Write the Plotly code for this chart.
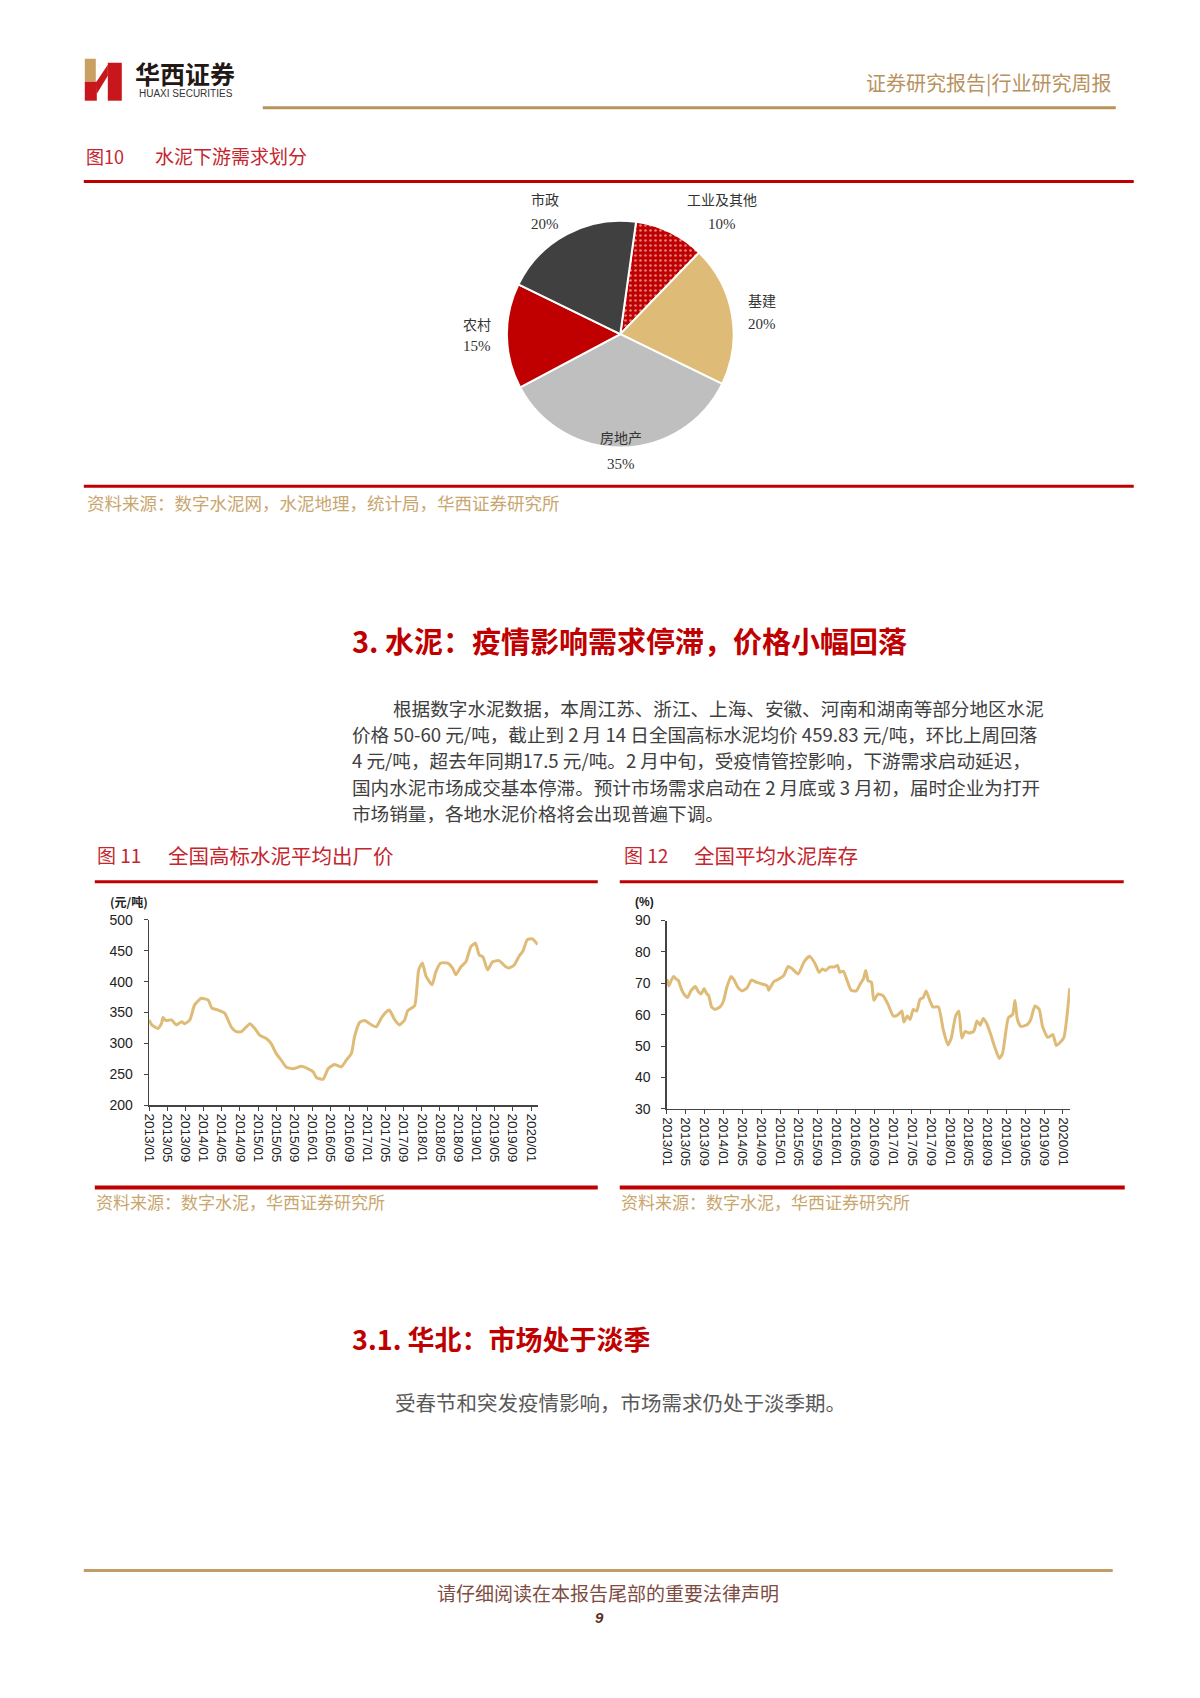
import plotly.graph_objects as go

# page / figure geometry (browser keeps its default 8px body margin)
PAGE_W, PAGE_H = 1200, 1698
OFF = 8
W, H = PAGE_W - 2 * OFF, PAGE_H - 2 * OFF
# measured capture transform: shown = A + S * page  (compensated below)
AX, SX = 7.25, 0.9933
AY, SY = 7.27, 0.9916

# ---------------- data ----------------
pie_labels = ["工业及其他", "基建", "房地产", "农村", "市政"]
pie_values = [10, 20, 35, 15, 20]

price_dates = [
    "2013-01-01", "2013-01-19", "2013-03-01", "2013-03-25", "2013-04-04", "2013-04-22", "2013-06-01", "2013-07-01", "2013-08-07", "2013-08-28",
    "2013-10-01", "2013-11-01", "2013-12-16", "2014-02-01", "2014-02-25", "2014-04-07", "2014-05-22", "2014-07-04", "2014-08-07", "2014-09-10",
    "2014-11-07", "2014-12-10", "2015-01-13", "2015-02-24", "2015-03-28", "2015-05-01", "2015-06-04", "2015-07-07", "2015-08-22", "2015-10-16",
    "2015-12-01", "2016-01-04", "2016-01-25", "2016-03-10", "2016-04-13", "2016-05-25", "2016-07-10", "2016-08-13", "2016-09-16", "2016-10-07",
    "2016-11-10", "2016-12-13", "2017-01-28", "2017-03-01", "2017-04-04", "2017-05-07", "2017-05-28", "2017-07-01", "2017-08-04", "2017-09-07",
    "2017-09-28", "2017-11-13", "2017-12-10", "2018-01-04", "2018-01-28", "2018-03-10", "2018-04-04", "2018-05-07", "2018-06-22", "2018-07-25",
    "2018-08-16", "2018-09-19", "2018-10-22", "2018-11-25", "2018-12-25", "2019-01-19", "2019-02-13", "2019-03-16", "2019-04-19", "2019-06-01",
    "2019-07-16", "2019-08-07", "2019-09-10", "2019-10-13", "2019-11-07", "2019-12-07", "2020-01-10", "2020-02-14",
]
price_values = [
    338, 330, 324, 332, 342, 337, 338, 330, 335, 332,
    338, 362, 373, 370, 357, 354, 349, 327, 319, 319,
    332, 324, 313, 308, 300, 284, 273, 262, 259, 263,
    259, 254, 245, 242, 259, 266, 262, 273, 284, 311,
    334, 337, 330, 327, 341, 351, 354, 339, 330, 338,
    353, 361, 419, 430, 409, 395, 416, 430, 430, 422,
    411, 424, 432, 457, 462, 443, 440, 419, 432, 434,
    424, 422, 427, 441, 449, 468, 469, 460,
]

stock_dates = [
    "2013-01-01", "2013-01-13", "2013-01-28", "2013-02-13", "2013-03-01", "2013-03-16", "2013-04-04", "2013-04-25", "2013-05-13", "2013-06-07",
    "2013-07-04", "2013-07-19", "2013-08-10", "2013-08-28", "2013-09-13", "2013-09-28", "2013-10-16", "2013-11-07", "2013-12-10", "2014-01-01",
    "2014-01-22", "2014-02-19", "2014-03-10", "2014-04-07", "2014-05-01", "2014-06-01", "2014-07-01", "2014-08-04", "2014-09-07", "2014-10-10",
    "2014-10-19", "2014-11-22", "2014-12-25", "2015-01-25", "2015-02-22", "2015-03-19", "2015-04-28", "2015-06-04", "2015-07-10", "2015-08-16",
    "2015-09-10", "2015-10-01", "2015-10-22", "2015-11-16", "2015-12-16", "2016-01-07", "2016-01-22", "2016-02-13", "2016-03-13", "2016-04-04",
    "2016-05-07", "2016-06-01", "2016-06-22", "2016-07-07", "2016-07-22", "2016-08-13", "2016-08-28", "2016-09-25", "2016-10-28", "2016-11-28",
    "2017-01-01", "2017-01-28", "2017-02-25", "2017-03-10", "2017-04-01", "2017-04-19", "2017-05-10", "2017-06-01", "2017-06-22", "2017-07-13",
    "2017-08-01", "2017-08-22", "2017-09-13", "2017-10-19", "2017-11-19", "2017-12-19", "2018-01-10", "2018-02-07", "2018-02-28", "2018-03-19",
    "2018-04-10", "2018-05-04", "2018-06-04", "2018-06-25", "2018-07-16", "2018-08-04", "2018-08-25", "2018-09-22", "2018-10-13", "2018-11-16",
    "2018-12-07", "2019-01-13", "2019-02-10", "2019-02-25", "2019-03-13", "2019-04-04", "2019-05-16", "2019-06-07", "2019-07-04", "2019-08-01",
    "2019-08-22", "2019-09-25", "2019-10-28", "2019-11-19", "2019-12-10", "2020-01-07", "2020-02-14",
]
stock_values = [
    71.4, 69.2, 70.9, 72.2, 71.4, 70.9, 68.2, 66.3, 65.5, 67.8,
    69.0, 67.6, 66.6, 68.4, 66.8, 66.0, 62.5, 61.7, 62.5, 64.4,
    68.7, 72.2, 71.1, 68.5, 67.6, 68.5, 71.1, 70.3, 69.8, 69.2,
    67.8, 70.6, 71.4, 72.5, 75.4, 74.7, 73.0, 76.8, 78.6, 76.2,
    73.5, 74.6, 74.1, 75.2, 75.2, 75.7, 73.5, 73.9, 70.3, 67.8,
    67.6, 69.8, 71.4, 74.1, 70.9, 70.3, 64.6, 66.6, 66.0, 63.3,
    59.6, 59.9, 61.2, 57.7, 59.6, 58.5, 61.7, 61.2, 64.9, 65.5,
    67.6, 64.9, 62.5, 62.5, 55.3, 50.4, 52.6, 59.6, 61.2, 52.6,
    54.7, 54.2, 54.7, 58.0, 56.7, 58.8, 57.4, 53.7, 50.4, 46.1,
    47.7, 59.0, 60.1, 64.6, 58.5, 56.3, 56.9, 58.5, 62.8, 61.7,
    56.3, 52.8, 53.7, 50.2, 51.0, 52.8, 68.5,
]

x_tick_labels = [
    "2013/01", "2013/05", "2013/09", "2014/01", "2014/05", "2014/09", "2015/01", "2015/05",
    "2015/09", "2016/01", "2016/05", "2016/09", "2017/01", "2017/05", "2017/09", "2018/01",
    "2018/05", "2018/09", "2019/01", "2019/05", "2019/09", "2020/01",
]
price_ticks = [200, 250, 300, 350, 400, 450, 500]
stock_ticks = [30, 40, 50, 60, 70, 80, 90]

paragraph_lines = [
    "根据数字水泥数据，本周江苏、浙江、上海、安徽、河南和湖南等部分地区水泥",
    "价格 50-60 元/吨，截止到 2 月 14 日全国高标水泥均价 459.83 元/吨，环比上周回落",
    "4 元/吨，超去年同期17.5 元/吨。2 月中旬，受疫情管控影响，下游需求启动延迟，",
    "国内水泥市场成交基本停滞。预计市场需求启动在 2 月底或 3 月初，届时企业为打开",
    "市场销量，各地水泥价格将会出现普遍下调。",
]

# ---------------- styles ----------------
CJK = "Noto Sans CJK SC"
SANS = "Liberation Sans, Arial"
SERIF = "Liberation Serif, Times New Roman"
RED = "#c00000"
TITLE_RED = "#c4262e"
GOLD = "#b8935a"
TAN = "#c8a66e"
LINE = "#dfbb78"
pie_colors = ["#c00000", "#dfbb78", "#bfbfbf", "#c00000", "#404040"]
pie_patterns = [".", "", "", "", ""]
# label anchor points (page px) for pie labels: (name_x, name_y, pct_y)
pie_label_pos = [(722, 198, 223), (762, 300, 324), (621, 437, 464), (477, 324, 346), (545, 198, 223)]


def px(x, y):
    """target page pixel -> paper coordinates"""
    X = (x - AX) / SX
    Y = (y - AY) / SY
    return (X - OFF) / W, 1 - (Y - OFF) / H


def dom_x(x0, x1):
    return [px(x0, 0)[0], px(x1, 0)[0]]


def dom_y(y_top, y_bottom):
    return [px(0, y_bottom)[1], px(0, y_top)[1]]


tick_dates = [t.replace("/", "-") + "-01" for t in x_tick_labels]

fig = go.Figure()

# pie
cx, cy, r = 620.5, 333.7, 113.5
fig.add_trace(go.Pie(
    labels=pie_labels, values=pie_values, sort=False, direction="clockwise", rotation=8,
    textinfo="none", hoverinfo="skip", showlegend=False,
    domain=dict(x=dom_x(cx - r, cx + r), y=dom_y(cy - r, cy + r)),
    marker=dict(colors=pie_colors, line=dict(color="white", width=2),
                pattern=dict(shape=pie_patterns, fgcolor="white", bgcolor=pie_colors,
                             size=5, solidity=0.22, fillmode="overlay")),
))

fig.add_trace(go.Scatter(
    x=price_dates, y=price_values, xaxis="x", yaxis="y", mode="lines",
    line=dict(color=LINE, width=3, shape="spline", smoothing=0.5),
    hoverinfo="skip", showlegend=False,
))
fig.add_trace(go.Scatter(
    x=stock_dates, y=stock_values, xaxis="x2", yaxis="y2", mode="lines",
    line=dict(color=LINE, width=3, shape="spline", smoothing=0.5),
    hoverinfo="skip", showlegend=False,
))

tickfont = dict(family=SANS, size=14, color="#222222")
xax = dict(type="date", tickvals=tick_dates, ticktext=x_tick_labels, tickangle=90,
           ticks="outside", ticklen=4, tickcolor="#444", showline=True, linecolor="#444",
           linewidth=1.5, showgrid=False, zeroline=False,
           tickfont=dict(family=SANS, size=13.5, color="#222"), fixedrange=True)
yax = dict(ticks="outside", ticklen=4, tickcolor="#444", showline=True, linecolor="#444",
           linewidth=1.5, showgrid=False, zeroline=False, tickfont=tickfont, fixedrange=True,
           ticklabelstandoff=8)

fig.update_layout(
    width=W, height=H, margin=dict(l=0, r=0, t=0, b=0),
    paper_bgcolor="white", plot_bgcolor="white", showlegend=False,
    xaxis=dict(xax, domain=dom_x(149.3, 538), anchor="y", range=["2013-01-01", "2020-02-15"]),
    yaxis=dict(yax, domain=dom_y(920, 1105.7), anchor="x", range=[200, 500], tickvals=price_ticks),
    xaxis2=dict(xax, domain=dom_x(667.2, 1070.2), anchor="y2", range=["2013-01-01", "2020-02-15"]),
    yaxis2=dict(yax, domain=dom_y(920.8, 1109.4), anchor="x2", range=[30, 90], tickvals=stock_ticks),
)

# ---------------- shapes ----------------
shapes = []


def hline(x0, x1, y, color, width):
    a = px(x0, y)
    b = px(x1, y)
    shapes.append(dict(type="line", xref="paper", yref="paper", x0=a[0], y0=a[1], x1=b[0], y1=b[1],
                       line=dict(color=color, width=width)))


def poly(points, color):
    pts = [px(*p) for p in points]
    path = "M " + " L ".join(f"{p[0]:.5f},{p[1]:.5f}" for p in pts) + " Z"
    shapes.append(dict(type="path", xref="paper", yref="paper", path=path,
                       fillcolor=color, line=dict(width=0)))


hline(263, 1116, 107, GOLD, 3)
hline(84, 1134, 181, RED, 3)
hline(84, 1134, 486, RED, 3)
hline(95, 598, 882, RED, 3)
hline(620, 1124, 882, RED, 3)
hline(95, 598, 1188, RED, 4)
hline(620, 1125, 1188, RED, 4)
hline(84, 1113, 1571.5, "#c29c66", 3)

# logo (stylised H)
poly([(85, 58), (96, 58), (96, 81), (85, 81)], "#c9a063")
poly([(85, 81), (97, 81), (97, 100), (85, 100)], "#c8161d")
poly([(96, 82), (108, 64), (108, 75), (97, 93)], "#c8161d")
poly([(108, 62), (122, 62), (122, 100), (108, 100)], "#c8161d")

fig.update_layout(shapes=shapes)

# ---------------- text ----------------
anns = []


def text(x, y, s, size, color, family=CJK, xanchor="left", yanchor="middle"):
    p = px(x, y)
    anns.append(dict(x=p[0], y=p[1], xref="paper", yref="paper", text=s, showarrow=False,
                     xanchor=xanchor, yanchor=yanchor, align="left", borderpad=0,
                     font=dict(family=family, size=size, color=color)))


# header
text(134, 72, "<b>华西证券</b>", 25, "#231815")
text(138, 93, "HUAXI SECURITIES", 10, "#333333", family=SANS)
text(1112, 82, "证券研究报告|行业研究周报", 20, "#b8925e", xanchor="right")

# figure 10
text(85, 155, "图10", 18, TITLE_RED)
text(154, 155, "水泥下游需求划分", 19, TITLE_RED)
for (lx, ly, py), lab, val in zip(pie_label_pos, pie_labels, pie_values):
    text(lx, ly, lab, 14, "#333333", xanchor="center")
    text(lx, py, f"{val}%", 15, "#333333", family=SERIF, xanchor="center")
text(86, 502, "资料来源：数字水泥网，水泥地理，统计局，华西证券研究所", 17.5, TAN)

# section heading
text(351, 640, "<b>3. 水泥：疫情影响需求停滞，价格小幅回落</b>", 29, RED)

# paragraph lines
para_y = [707, 733.5, 760, 786.5, 813]
for i, (line, y) in enumerate(zip(paragraph_lines, para_y)):
    text(392 if i == 0 else 351, y, line, 18.6, "#404040")

# figure 11 / 12 titles
text(96, 855, "图 11", 19, TITLE_RED)
text(167, 855, "全国高标水泥平均出厂价", 20.5, TITLE_RED)
text(623, 855, "图 12", 19, TITLE_RED)
text(693, 855, "全国平均水泥库存", 20.5, TITLE_RED)
text(109, 902, "<b>(元/吨)</b>", 12, "#222222")
text(634, 902, "<b>(%)</b>", 12, "#222222", family=SANS)
text(95, 1202, "资料来源：数字水泥，华西证券研究所", 17, TAN)
text(620, 1202, "资料来源：数字水泥，华西证券研究所", 17, TAN)

# sub heading
text(351, 1339, "<b>3.1. 华北：市场处于淡季</b>", 27, RED)
text(394, 1403, "受春节和突发疫情影响，市场需求仍处于淡季期。", 20.5, "#595959")

# footer
text(608, 1593, "请仔细阅读在本报告尾部的重要法律声明", 19, "#7d4c42", xanchor="center")
text(600, 1619, "<b><i>9</i></b>", 15, "#5a2e20", family=SANS, xanchor="center")

fig.update_layout(annotations=anns)

fig.write_html("out.html", config={"displayModeBar": False, "staticPlot": True})
